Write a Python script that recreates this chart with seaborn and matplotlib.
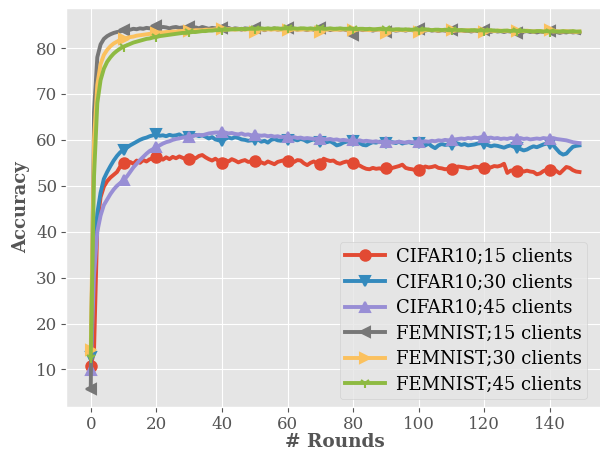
import numpy as np
import matplotlib
matplotlib.use('Agg')
import matplotlib.pyplot as plt
import seaborn as sns

# accuracy per round (rounds 0..149)
rounds = list(range(150))

cifar_15 = [
    10.7, 14.0, 41.5, 47.5, 49.8, 51.0, 51.8, 52.4, 53.0, 54.2,
    55.0, 54.6, 55.2, 54.8, 55.5, 55.0, 55.6, 55.3, 55.8, 55.9,
    56.3, 56.0, 55.7, 56.2, 55.8, 56.3, 56.0, 56.4, 56.1, 55.8,
    55.9, 56.2, 56.0, 56.5, 56.7, 56.2, 55.8, 55.5, 55.9, 55.4,
    55.0, 55.6, 55.3, 55.8, 55.5, 55.1, 55.4, 55.6, 55.2, 55.3,
    55.3, 54.9, 55.1, 54.8, 55.3, 55.0, 54.7, 55.2, 55.4, 55.6,
    55.4, 55.5, 55.2, 55.6, 55.5, 54.9, 54.5, 55.0, 55.3, 54.9,
    54.7, 55.9, 55.6, 55.4, 55.5, 55.0, 54.8, 55.1, 55.3, 55.0,
    54.9, 54.6, 54.4, 54.0, 53.7, 53.6, 53.9, 53.7, 53.8, 53.6,
    53.8, 53.6, 53.9, 54.1, 54.3, 54.6, 53.9, 53.7, 53.6, 53.4,
    53.5, 53.8, 54.2, 54.0, 54.1, 54.3, 53.9, 53.8, 53.6, 53.7,
    53.6, 53.9, 54.2, 54.1, 54.0, 53.8, 53.9, 54.2, 54.1, 54.0,
    53.9, 54.1, 54.0, 54.3, 54.2, 54.4, 54.8, 52.8, 53.3, 53.4,
    53.2, 53.4, 53.1, 53.3, 53.1, 53.0, 52.5, 52.7, 53.2, 53.5,
    53.5, 53.7, 53.2, 52.7, 53.4, 54.1, 53.9, 53.4, 53.1, 53.0,
]
cifar_30 = [
    12.7, 35.5, 44.0, 48.5, 51.5, 53.0, 54.3, 55.5, 56.5, 57.3,
    57.8, 58.3, 58.8, 59.2, 59.6, 60.0, 60.3, 60.5, 60.8, 61.0,
    61.2, 60.9, 61.0, 60.8, 61.1, 60.9, 61.0, 61.2, 60.7, 60.9,
    60.6, 60.9, 61.1, 60.8, 61.0, 60.7, 60.3, 60.6, 60.1, 59.9,
    59.8, 60.2, 60.5, 60.3, 60.6, 60.4, 60.1, 60.0, 59.8, 59.9,
    59.9, 60.1, 59.6, 59.8, 59.4, 60.0, 60.2, 59.9, 59.8, 60.1,
    60.0, 59.8, 60.1, 59.9, 60.2, 60.0, 59.6, 59.9, 60.1, 59.8,
    59.6, 59.8, 59.5, 59.7, 59.3, 58.8, 59.0, 59.4, 59.6, 59.7,
    59.8, 59.5, 59.3, 58.9, 58.8, 59.2, 59.5, 59.4, 59.6, 59.5,
    59.4, 59.6, 59.5, 59.3, 59.6, 59.2, 59.4, 59.5, 59.3, 59.6,
    59.4, 59.0, 58.8, 59.2, 58.6, 58.2, 58.8, 59.1, 58.9, 59.0,
    58.8, 59.0, 59.2, 58.9, 59.1, 58.8, 58.9, 59.0, 59.2, 59.3,
    59.1, 58.9, 58.6, 58.8, 58.7, 58.5, 58.3, 58.6, 58.8, 58.5,
    58.3, 58.0, 57.7, 57.9, 58.3, 58.6, 58.4, 58.7, 59.0, 59.2,
    59.1, 58.8, 58.0, 57.2, 56.8, 57.0, 57.8, 58.5, 58.7, 58.8,
]
cifar_45 = [
    9.8, 30.5, 40.0, 43.5, 45.8, 47.0, 48.2, 49.2, 50.0, 50.6,
    51.2, 52.0, 53.0, 54.0, 54.8, 55.6, 56.3, 57.0, 57.6, 58.0,
    58.4, 58.8, 59.2, 59.5, 59.7, 60.0, 60.2, 60.3, 60.5, 60.6,
    60.6, 60.8, 61.0, 61.1, 61.0, 61.2, 61.4, 61.5, 61.6, 61.6,
    61.7, 61.6, 61.4, 61.5, 61.3, 61.2, 61.4, 61.1, 61.2, 61.0,
    61.1, 61.0, 60.9, 61.0, 60.8, 60.9, 60.7, 60.8, 60.6, 60.7,
    60.6, 60.5, 60.6, 60.4, 60.5, 60.3, 60.4, 60.3, 60.2, 60.3,
    60.3, 60.2, 60.1, 60.2, 60.0, 60.1, 59.9, 60.0, 59.9, 59.8,
    59.9, 59.8, 59.9, 59.7, 59.8, 59.7, 59.6, 59.7, 59.5, 59.6,
    59.5, 59.6, 59.4, 59.5, 59.6, 59.5, 59.4, 59.6, 59.5, 59.5,
    59.5, 59.6, 59.7, 59.6, 59.8, 59.7, 59.9, 59.8, 60.0, 59.9,
    60.0, 60.1, 60.2, 60.3, 60.2, 60.4, 60.3, 60.5, 60.4, 60.6,
    60.6, 60.4, 60.5, 60.3, 60.4, 60.2, 60.3, 60.2, 60.4, 60.3,
    60.3, 60.4, 60.2, 60.3, 60.1, 60.2, 60.3, 60.2, 60.4, 60.3,
    60.3, 60.4, 60.2, 60.1, 60.0, 59.9, 59.7, 59.5, 59.4, 59.3,
]
femnist_15 = [
    5.8, 66.0, 78.0, 80.8, 82.0, 82.6, 83.0, 83.3, 83.5, 83.6,
    84.0, 83.8, 84.0, 84.2, 84.1, 84.3, 84.2, 84.4, 84.3, 84.5,
    84.7, 84.4, 84.6, 84.5, 84.3, 84.5, 84.6, 84.4, 84.5, 84.6,
    84.6, 84.4, 84.5, 84.3, 84.6, 84.4, 84.2, 84.4, 84.3, 84.2,
    84.3, 84.2, 84.4, 84.1, 84.3, 84.2, 84.0, 84.3, 84.2, 84.1,
    84.3, 84.1, 84.2, 83.9, 84.2, 84.1, 84.3, 84.0, 84.2, 84.1,
    84.3, 84.1, 84.2, 84.0, 84.2, 84.1, 83.9, 84.2, 84.0, 84.1,
    84.3, 84.1, 84.2, 83.9, 84.1, 84.2, 84.0, 84.1, 83.9, 84.0,
    82.9, 84.0, 84.1, 83.9, 84.1, 84.0, 83.8, 84.0, 84.1, 83.9,
    83.6, 83.9, 84.0, 83.8, 83.9, 84.0, 83.8, 84.0, 83.9, 83.8,
    84.2, 83.9, 83.8, 84.0, 83.8, 83.9, 83.7, 83.9, 83.8, 83.7,
    84.0, 83.6, 83.8, 83.9, 83.7, 83.8, 83.6, 83.8, 83.7, 83.6,
    84.0, 83.7, 83.5, 83.8, 83.6, 83.7, 83.5, 83.7, 83.6, 83.5,
    83.3, 83.0, 83.6, 83.7, 83.5, 83.6, 83.4, 83.6, 83.5, 83.4,
    83.8, 83.4, 83.5, 83.3, 83.5, 83.4, 83.6, 83.4, 83.5, 83.3,
]
femnist_30 = [
    14.3, 60.0, 72.0, 76.5, 78.5, 79.6, 80.4, 81.0, 81.4, 81.8,
    82.0, 82.2, 82.4, 82.5, 82.7, 82.8, 82.9, 83.0, 83.1, 83.2,
    83.3, 83.4, 83.4, 83.5, 83.5, 83.6, 83.6, 83.7, 83.7, 83.8,
    83.8, 83.8, 83.9, 83.9, 83.9, 84.0, 84.0, 84.0, 84.1, 84.0,
    84.1, 84.0, 84.1, 84.1, 84.0, 84.1, 84.1, 84.0, 84.1, 84.0,
    83.5, 84.0, 84.1, 84.0, 84.1, 84.0, 84.1, 84.0, 84.0, 84.1,
    84.0, 84.0, 84.1, 84.0, 84.0, 84.1, 84.0, 84.0, 84.1, 84.0,
    83.4, 84.0, 84.0, 84.1, 84.0, 84.0, 84.0, 84.1, 84.0, 84.0,
    84.0, 84.0, 84.1, 84.0, 84.0, 83.9, 84.0, 84.0, 84.0, 83.9,
    83.3, 83.9, 84.0, 83.9, 84.0, 83.9, 83.9, 84.0, 83.9, 83.9,
    83.5, 83.9, 83.9, 84.0, 83.9, 83.9, 83.8, 83.9, 83.9, 83.8,
    83.9, 83.8, 83.9, 83.8, 83.8, 83.9, 83.8, 83.8, 83.9, 83.8,
    83.4, 83.8, 83.8, 83.7, 83.8, 83.8, 83.7, 83.8, 83.7, 83.7,
    83.8, 83.7, 83.7, 83.8, 83.7, 83.6, 83.7, 83.7, 83.6, 83.7,
    83.9, 83.6, 83.7, 83.6, 83.6, 83.7, 83.6, 83.6, 83.5, 83.6,
]
femnist_45 = [
    12.5, 52.0, 68.0, 73.0, 75.5, 77.0, 78.0, 78.8, 79.4, 79.9,
    80.3, 80.6, 80.9, 81.2, 81.4, 81.6, 81.8, 82.0, 82.1, 82.3,
    82.4, 82.6, 82.7, 82.8, 82.9, 83.0, 83.1, 83.2, 83.3, 83.3,
    83.4, 83.5, 83.5, 83.6, 83.7, 83.7, 83.8, 83.8, 83.9, 83.9,
    84.0, 84.0, 84.0, 84.1, 84.1, 84.1, 84.2, 84.1, 84.2, 84.2,
    84.2, 84.2, 84.3, 84.2, 84.3, 84.2, 84.3, 84.3, 84.2, 84.3,
    84.3, 84.2, 84.3, 84.2, 84.3, 84.3, 84.2, 84.3, 84.2, 84.2,
    84.3, 84.2, 84.2, 84.3, 84.2, 84.2, 84.3, 84.2, 84.2, 84.2,
    84.2, 84.1, 84.2, 84.2, 84.1, 84.2, 84.1, 84.1, 84.2, 84.1,
    84.1, 84.1, 84.0, 84.1, 84.1, 84.0, 84.1, 84.0, 84.0, 84.1,
    84.0, 84.0, 84.1, 84.0, 83.9, 84.0, 84.0, 83.9, 84.0, 83.9,
    83.9, 84.0, 83.9, 83.9, 83.9, 83.8, 83.9, 83.9, 83.8, 83.9,
    83.8, 83.8, 83.9, 83.8, 83.8, 83.7, 83.8, 83.8, 83.7, 83.8,
    83.7, 83.7, 83.8, 83.7, 83.7, 83.6, 83.7, 83.7, 83.6, 83.7,
    83.6, 83.7, 83.6, 83.6, 83.7, 83.6, 83.6, 83.7, 83.6, 83.6,
]

labels = ['CIFAR10;15 clients', 'CIFAR10;30 clients', 'CIFAR10;45 clients',
          'FEMNIST;15 clients', 'FEMNIST;30 clients', 'FEMNIST;45 clients']
series = [cifar_15, cifar_30, cifar_45, femnist_15, femnist_30, femnist_45]
markers = ['o', 'v', '^', '<', '>', '1']
colors = ['#E24A33', '#348ABD', '#988ED5', '#777777', '#FBC15E', '#8EBA42']

plt.style.use('ggplot')
plt.rcParams['font.family'] = 'DejaVu Serif'

fig = plt.figure(figsize=(6, 4.51), dpi=100)
ax = fig.add_axes([0.1105, 0.098, 0.896, 0.8834])

for vals, lab, m, c in zip(series, labels, markers, colors):
    sns.lineplot(x=rounds, y=vals, ax=ax, label=lab, color=c, marker=m,
                 markevery=10, lw=2.8, ms=7.5, mec=c, mew=1.5)

ax.set_xlabel('# Rounds', fontsize=13.3, fontweight='bold', color='#555555',
              labelpad=0)
ax.set_ylabel('Accuracy', fontsize=13, fontweight='bold', color='#555555')
ax.tick_params(labelsize=12, colors='#555555', pad=3)
ax.set_xticks(range(0, 141, 20))
ax.set_yticks(range(10, 81, 10))
# legend box placed where the reference has it (lower right corner)
ax.legend(loc='lower right', bbox_to_anchor=(0.9686, 0.0193), fontsize=13,
          handlelength=2.2, handletextpad=0.6, labelspacing=0.42,
          borderpad=0.3, borderaxespad=0)

plt.savefig('out.png', dpi=100)
